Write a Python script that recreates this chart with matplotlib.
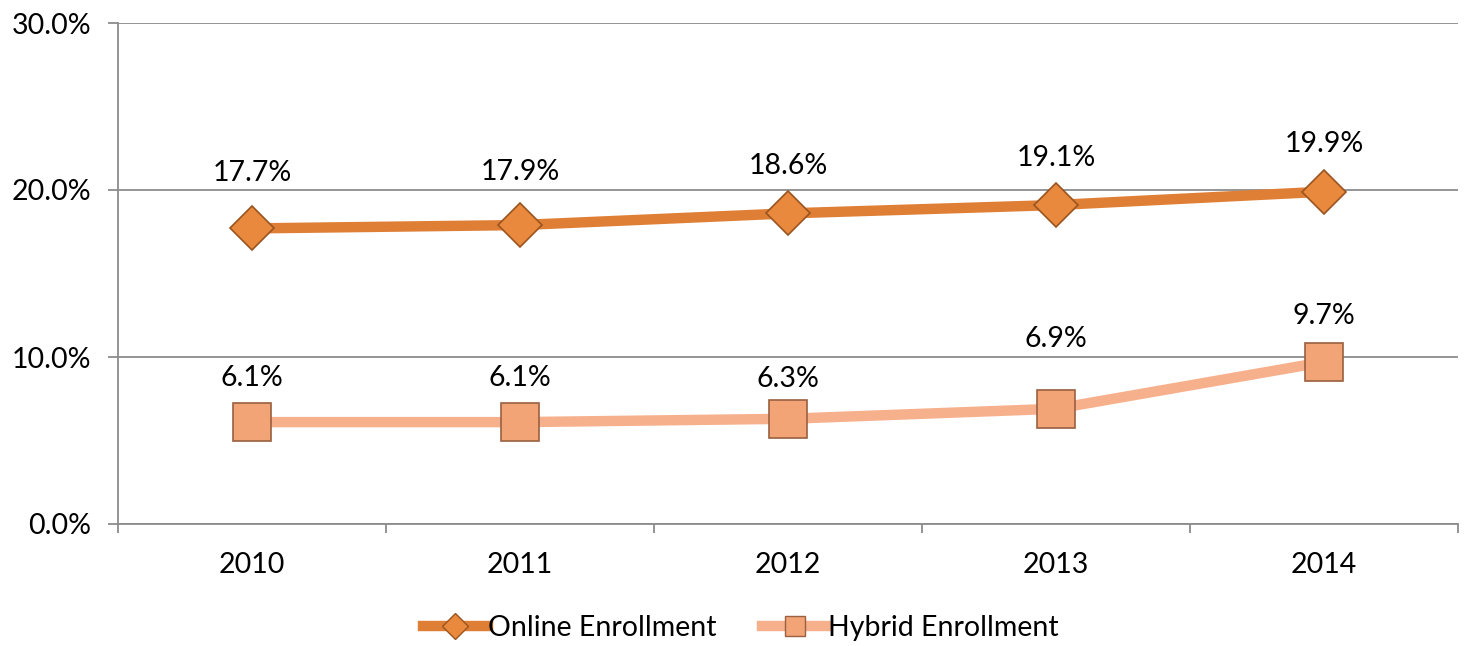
import matplotlib
matplotlib.use("Agg")
import matplotlib.pyplot as plt
from matplotlib.ticker import FuncFormatter, FixedLocator
from matplotlib.lines import Line2D

years = ["2010", "2011", "2012", "2013", "2014"]
online = [17.7, 17.9, 18.6, 19.1, 19.9]
hybrid = [6.1, 6.1, 6.3, 6.9, 9.7]
series_names = ["Online Enrollment", "Hybrid Enrollment"]

# label vertical offsets in points (layout only)
online_off = [40, 38, 34, 34, 34]
hybrid_off = [32, 32, 29, 50, 33]

plt.rcParams['font.family'] = ['Lato', 'DejaVu Sans']
FS = 20.5

fig = plt.figure(figsize=(14.66, 6.46), dpi=100)
ax = fig.add_axes([118/1466, 122/646, (1458-118)/1466, (524-23)/646])

x = list(range(len(years)))
c_on = "#DF7F35"
c_hy = "#F7B08C"

ax.plot(x, online, color=c_on, lw=7.5, solid_capstyle='butt', zorder=3,
        marker='D', markersize=22, markerfacecolor="#E8893D",
        markeredgecolor="#9A5420", markeredgewidth=1.2)
ax.plot(x, hybrid, color=c_hy, lw=7.5, solid_capstyle='butt', zorder=3,
        marker='s', markersize=27, markerfacecolor="#F2A477",
        markeredgecolor="#9A6040", markeredgewidth=1.2)

for xi, v, o in zip(x, online, online_off):
    ax.annotate(f"{v:.1f}%", (xi, v), xytext=(0, o), textcoords='offset points',
                ha='center', va='center', fontsize=FS, color='black')
for xi, v, o in zip(x, hybrid, hybrid_off):
    ax.annotate(f"{v:.1f}%", (xi, v), xytext=(0, o), textcoords='offset points',
                ha='center', va='center', fontsize=FS, color='black')

ax.set_xlim(-0.5, len(years) - 0.5)
ax.set_ylim(0, 30)
ax.set_yticks([0, 10, 20, 30])
ax.yaxis.set_major_formatter(FuncFormatter(lambda v, p: f"{v:.1f}%"))
ax.grid(axis='y', color='#8C8C8C', lw=1.3)
ax.set_axisbelow(True)

ax.set_xticks(x)
ax.set_xticklabels(years)
ax.xaxis.set_minor_locator(FixedLocator([i - 0.5 for i in range(len(years) + 1)]))
ax.tick_params(axis='x', which='major', length=0, pad=20, labelsize=FS)
ax.tick_params(axis='x', which='minor', length=6.5, color='#8C8C8C', width=1.3)
ax.tick_params(axis='y', length=7, color='#8C8C8C', width=1.3, labelsize=FS, pad=12)

for s in ['top', 'right']:
    ax.spines[s].set_visible(False)
for s in ['left', 'bottom']:
    ax.spines[s].set_color('#8C8C8C')
    ax.spines[s].set_linewidth(1.3)

handles = [
    Line2D([], [], color=c_on, lw=7.5, marker='D', markersize=13,
           markerfacecolor="#E8893D", markeredgecolor="#9A5420", markeredgewidth=1),
    Line2D([], [], color=c_hy, lw=7.5, marker='s', markersize=15,
           markerfacecolor="#F2A477", markeredgecolor="#9A6040", markeredgewidth=1),
]
fig.legend(handles, series_names, loc='center', bbox_to_anchor=(0.505, 18/646),
           ncol=2, frameon=False, fontsize=FS, handlelength=2.3, handletextpad=0.0,
           columnspacing=1.6)

fig.savefig("out.png", dpi=100)
